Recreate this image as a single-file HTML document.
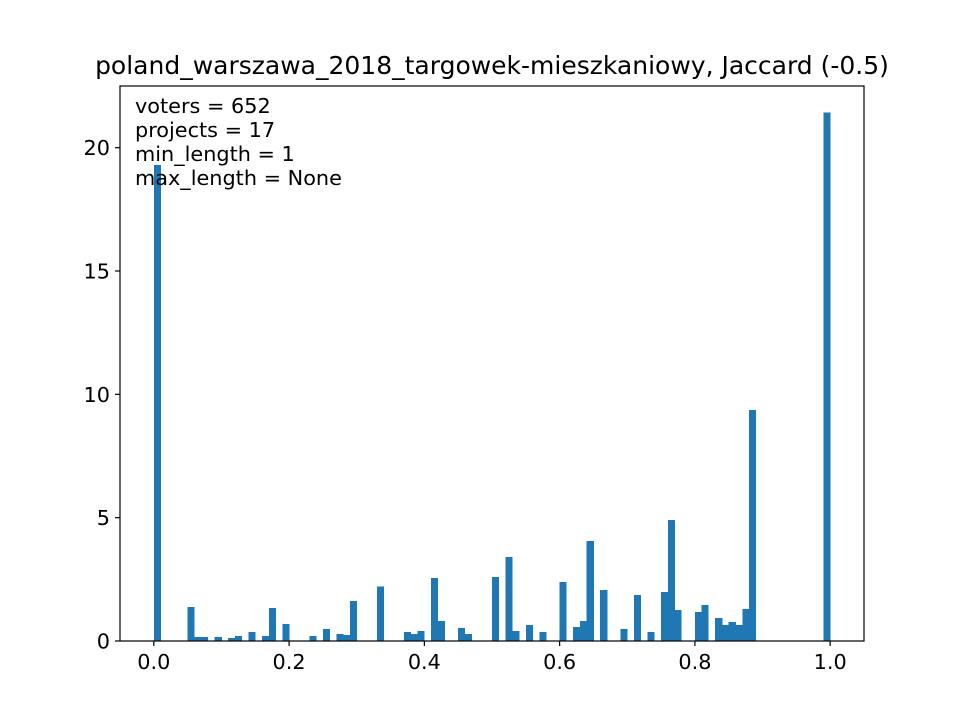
<!DOCTYPE html>
<html><head><meta charset="utf-8"><style>
html,body{margin:0;padding:0;background:#fff;}
svg text{font-family:"DejaVu Sans","Liberation Sans",sans-serif;fill:#000;}
</style></head><body>
<svg id="chart" width="960" height="720" viewBox="0 0 960 720">
<rect x="0" y="0" width="960" height="720" fill="#fff"/>
<g id="bars" shape-rendering="crispEdges"></g>
<g id="axes"></g>
<text x="492" y="74" text-anchor="middle" font-size="25">poland_warszawa_2018_targowek-mieszkaniowy, Jaccard (-0.5)</text>
<g font-size="20.8">
<text x="135" y="113">voters = 652</text>
<text x="135" y="137">projects = 17</text>
<text x="135" y="161">min_length = 1</text>
<text x="135" y="185">max_length = None</text>
</g>
</svg>
<script>
const binIndex = [0,5,6,7,9,11,12,14,16,17,19,23,25,27,28,29,33,37,38,39,41,42,45,46,50,52,53,55,57,60,62,63,64,66,69,71,73,75,76,77,80,81,83,84,85,86,87,88,99];
const binHeights = [19.3,1.38,0.16,0.16,0.16,0.12,0.2,0.36,0.2,1.34,0.69,0.2,0.49,0.29,0.25,1.63,2.2,0.37,0.29,0.41,2.56,0.81,0.53,0.29,2.6,3.4,0.41,0.65,0.37,2.39,0.57,0.81,4.05,2.07,0.49,1.87,0.37,1.99,4.91,1.26,1.18,1.46,0.94,0.65,0.77,0.65,1.3,9.37,21.42];
const xTicks = [0,0.2,0.4,0.6,0.8,1.0];
const xTickLabels = ["0.0","0.2","0.4","0.6","0.8","1.0"];
const yTicks = [0,5,10,15,20];
const yTickLabels = ["0","5","10","15","20"];
const binWidth = 0.01;

const L=120,R=864,T=86,B=641;
const xMin=-0.05,xMax=1.05,yMin=0,yMax=22.5;
const sx=v=>L+(v-xMin)/(xMax-xMin)*(R-L);
const sy=v=>B-(v-yMin)/(yMax-yMin)*(B-T);
const NS="http://www.w3.org/2000/svg";
const bars=document.getElementById('bars');
binIndex.forEach((b,i)=>{
  const r=document.createElementNS(NS,'rect');
  const x0=sx(b*binWidth),x1=sx((b+1)*binWidth);
  r.setAttribute('x',x0);r.setAttribute('width',x1-x0+0.3);
  r.setAttribute('y',sy(binHeights[i]));r.setAttribute('height',sy(0)-sy(binHeights[i]));
  r.setAttribute('fill','#1f77b4');
  
  
  bars.appendChild(r);
});
const axes=document.getElementById('axes');
const frame=document.createElementNS(NS,'rect');
frame.setAttribute('x',L);frame.setAttribute('y',T);frame.setAttribute('width',R-L);frame.setAttribute('height',B-T);
frame.setAttribute('fill','none');frame.setAttribute('stroke','#000');frame.setAttribute('stroke-width','1.2');


axes.appendChild(frame);
xTicks.forEach((v,i)=>{
  const x=sx(v);
  const l=document.createElementNS(NS,'line');
  l.setAttribute('x1',x);l.setAttribute('x2',x);l.setAttribute('y1',B);l.setAttribute('y2',B+5);
  l.setAttribute('stroke','#000');l.setAttribute('stroke-width','1.2');
  
  
  axes.appendChild(l);
  const t=document.createElementNS(NS,'text');
  t.setAttribute('x',x);t.setAttribute('y',B+28);t.setAttribute('text-anchor','middle');t.setAttribute('font-size','20.8');
  t.textContent=xTickLabels[i];
  
  
  axes.appendChild(t);
});
yTicks.forEach((v,i)=>{
  const y=sy(v);
  const l=document.createElementNS(NS,'line');
  l.setAttribute('x1',L-5);l.setAttribute('x2',L);l.setAttribute('y1',y);l.setAttribute('y2',y);
  l.setAttribute('stroke','#000');l.setAttribute('stroke-width','1.2');
  
  
  axes.appendChild(l);
  const t=document.createElementNS(NS,'text');
  t.setAttribute('x',L-10);t.setAttribute('y',y+7.5);t.setAttribute('text-anchor','end');t.setAttribute('font-size','20.8');
  t.textContent=yTickLabels[i];
  
  
  axes.appendChild(t);
});
</script>
</body></html>
